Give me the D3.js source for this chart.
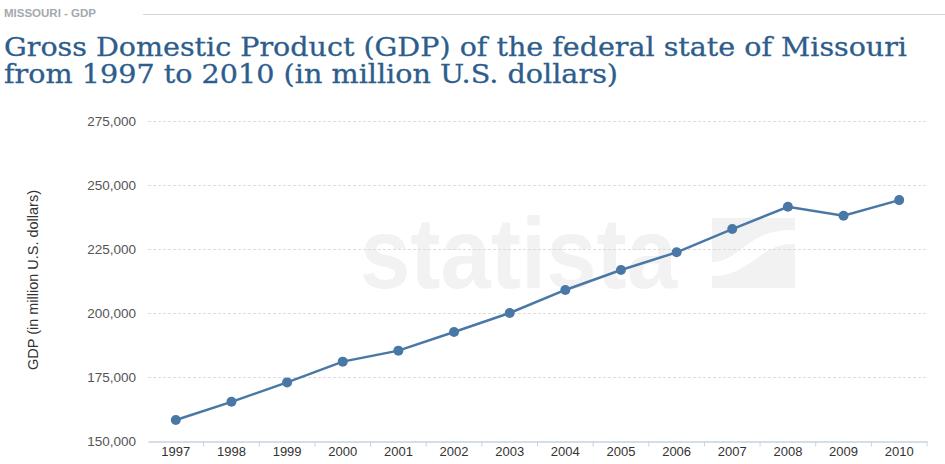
<!DOCTYPE html>
<html>
<head>
<meta charset="utf-8">
<script src="https://cdn.jsdelivr.net/npm/d3@7"></script>
<style>
  html, body { margin: 0; padding: 0; background: #fff; }
  svg { display: block; }
</style>
</head>
<body>
<svg id="chart" width="945" height="464"></svg>
<script>
// Missouri GDP, million U.S. dollars
const years = ["1997","1998","1999","2000","2001","2002","2003","2004","2005","2006","2007","2008","2009","2010"];
const gdp = [158200, 165300, 172900, 181000, 185300, 192600, 200000, 209000, 216800, 223700, 232800, 241500, 238000, 244100];
const yTicks = [150000, 175000, 200000, 225000, 250000, 275000];

const svg = d3.select("#chart");
const W = 945, H = 464;
const m = { left: 148, right: 18, top: 121, bottom: 23 };

const x = d3.scaleBand().domain(years).range([m.left, W - m.right]);
const y = d3.scaleLinear().domain([150000, 275000]).range([H - m.bottom, m.top]);

// header strip
svg.append("text")
  .attr("x", 4).attr("y", 17)
  .attr("font-family", "Arial, 'Liberation Sans', sans-serif")
  .attr("font-weight", "bold").attr("font-size", 11.5)
  .attr("fill", "#a3a8ae")
  .text("MISSOURI - GDP");
svg.append("line")
  .attr("x1", 143).attr("x2", W).attr("y1", 14.5).attr("y2", 14.5)
  .attr("stroke", "#d4d6d9").attr("stroke-width", 1);

// title
const titleStyle = t => t
  .attr("font-family", "'DejaVu Serif', serif")
  .attr("font-size", 26)
  .attr("fill", "#2d5d8c")
  .attr("stroke", "#2d5d8c").attr("stroke-width", 0.3)
  .attr("lengthAdjust", "spacingAndGlyphs");
svg.append("text").call(titleStyle)
  .attr("x", 4).attr("y", 56).attr("textLength", 903)
  .text("Gross Domestic Product (GDP) of the federal state of Missouri");
svg.append("text").call(titleStyle)
  .attr("x", 4).attr("y", 83).attr("textLength", 614)
  .text("from 1997 to 2010 (in million U.S. dollars)");

// watermark
const wm = svg.append("g").attr("fill", "#f2f2f2");
wm.append("text")
  .attr("x", 360).attr("y", 288)
  .attr("font-family", "'Liberation Sans', Arial, sans-serif")
  .attr("font-weight", "bold").attr("font-size", 100)
  .attr("textLength", 317).attr("lengthAdjust", "spacingAndGlyphs")
  .text("statista");
wm.append("rect").attr("x", 712).attr("y", 218).attr("width", 83).attr("height", 70);
wm.append("path")
  .attr("d", "M712,262 C740,262 748,228 795,230 L795,244 C760,242 752,276 712,276 Z")
  .attr("fill", "#fff");

// gridlines
svg.append("g")
  .selectAll("line")
  .data(yTicks.slice(1))
  .join("line")
  .attr("x1", m.left).attr("x2", W - m.right)
  .attr("y1", d => y(d) + 0.5).attr("y2", d => y(d) + 0.5)
  .attr("stroke", "#dcdcdc").attr("stroke-dasharray", "3,2");

// y axis labels
const yAxis = svg.append("g")
  .attr("transform", `translate(${m.left},0)`)
  .call(d3.axisLeft(y).tickValues(yTicks).tickSize(0).tickPadding(12)
    .tickFormat(d3.format(",")));
yAxis.select(".domain").remove();
yAxis.selectAll("text")
  .attr("font-family", "Arial, 'Liberation Sans', sans-serif")
  .attr("font-size", 13.5).attr("fill", "#555");

// x axis
const xAxis = svg.append("g")
  .attr("transform", `translate(0,${H - m.bottom + 0.5})`)
  .call(d3.axisBottom(x).tickSize(0).tickPadding(5));
xAxis.select(".domain").attr("stroke", "#c5d3e2").attr("stroke-width", 1.5);
xAxis.selectAll("text")
  .attr("font-family", "Arial, 'Liberation Sans', sans-serif")
  .attr("font-size", 13).attr("fill", "#333");
// separators between categories
xAxis.append("g")
  .selectAll("line")
  .data(years)
  .join("line")
  .attr("x1", d => x(d) + x.bandwidth())
  .attr("x2", d => x(d) + x.bandwidth())
  .attr("y1", 0).attr("y2", 5)
  .attr("stroke", "#c5d3e2").attr("stroke-width", 1);

// y axis title
svg.append("text")
  .attr("transform", `translate(38,280) rotate(-90)`)
  .attr("text-anchor", "middle")
  .attr("font-family", "Arial, 'Liberation Sans', sans-serif")
  .attr("font-size", 14).attr("fill", "#333")
  .attr("textLength", 180).attr("lengthAdjust", "spacingAndGlyphs")
  .text("GDP (in million U.S. dollars)");

// series line
const cx = (d, i) => x(years[i]) + x.bandwidth() / 2;
const line = d3.line().x(cx).y(d => y(d));
svg.append("path")
  .datum(gdp)
  .attr("d", line)
  .attr("fill", "none")
  .attr("stroke", "#4a78a6").attr("stroke-width", 2.5);

svg.append("g")
  .selectAll("circle")
  .data(gdp)
  .join("circle")
  .attr("cx", cx).attr("cy", d => y(d))
  .attr("r", 5)
  .attr("fill", "#4a78a6");
</script>
</body>
</html>
